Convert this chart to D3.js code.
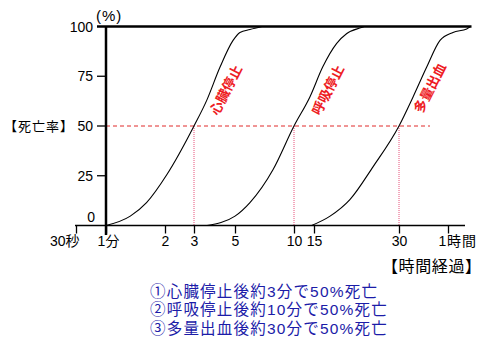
<!DOCTYPE html>
<html>
<head>
<meta charset="utf-8">
<script src="https://cdn.jsdelivr.net/npm/d3@7"></script>
<style>
  html, body { margin: 0; padding: 0; background: #fff; }
  svg { display: block; }
  text { font-family: "Liberation Sans", "Noto Sans CJK JP", sans-serif; }
</style>
</head>
<body>
<svg id="chart" width="489" height="347"></svg>
<script>
// Time axis ticks (minutes) and their labels
const tickMinutes = [0.5, 1, 2, 3, 5, 10, 15, 30, 60];
const tickLabels = ["30秒", "1分", "2", "3", "5", "10", "15", "30", "1時間"];

// Mortality ticks (%)
const yTicks = [0, 25, 50, 75, 100];

// Mortality curves: [minutes, % dead]
const cardiacArrest = [[1, 0], [1.33, 4.7], [1.61, 11.5], [2.05, 25.5], [3, 50], [3.52, 63],
  [4.15, 79.6], [4.88, 93], [5.3, 97], [5.96, 98.5], [6.87, 100]];
const respiratoryArrest = [[3.53, 0], [5, 4.7], [5.96, 11.5], [7.81, 28], [10, 50], [13.8, 64.6],
  [16.1, 79.6], [18.05, 91.5], [19.6, 96.5], [22.1, 99.5], [22.6, 100]];
const massiveBleeding = [[14.3, 0], [17.1, 4.7], [20.1, 13], [24.3, 29.6], [30, 50], [36.6, 64.6],
  [44.4, 79.6], [53.6, 93], [64.4, 97], [78.2, 98.8], [81.9, 99.7]];

const curveNames = ["心臓停止", "呼吸停止", "多量出血"];
const halfTimes = [3, 10, 30];
const notes = ["①心臓停止後約3分で50%死亡", "②呼吸停止後約10分で50%死亡", "③多量出血後約30分で50%死亡"];

const svg = d3.select("#chart");

// The time axis is spaced by hand, so interpolate piecewise in log-minutes
const xStops = [76, 106, 165, 194, 235, 294, 314, 399, 448];
const x = d3.scaleLinear().domain(tickMinutes.map(Math.log)).range(xStops);
const xt = m => x(Math.log(m));
const y = d3.scaleLinear().domain([0, 100]).range([225.5, 26.5]);

// Reference lines at 50%
svg.append("line")
  .attr("x1", xt(1)).attr("x2", 430)
  .attr("y1", y(50)).attr("y2", y(50))
  .attr("stroke", "#e02a2a").attr("stroke-width", 1).attr("stroke-dasharray", "4,3");
svg.selectAll(".half").data(halfTimes).enter().append("line")
  .attr("x1", d => xt(d)).attr("x2", d => xt(d))
  .attr("y1", y(50)).attr("y2", y(0))
  .attr("stroke", "#e8507a").attr("stroke-width", 1).attr("stroke-dasharray", "1,1");

// Curves
const line = d3.line().x(d => xt(d[0])).y(d => y(d[1])).curve(d3.curveMonotoneX);
svg.selectAll(".curve").data([cardiacArrest, respiratoryArrest, massiveBleeding]).enter()
  .append("path")
  .attr("d", line)
  .attr("fill", "none").attr("stroke", "#000").attr("stroke-width", 1.1);

// Frame: top line, vertical axis, time axis
svg.append("line").attr("x1", 97).attr("x2", 471.5)
  .attr("y1", y(100)).attr("y2", y(100))
  .attr("stroke", "#000").attr("stroke-width", 2.5);
svg.append("line").attr("x1", xt(1)).attr("x2", xt(1))
  .attr("y1", y(100)).attr("y2", 235)
  .attr("stroke", "#000").attr("stroke-width", 2.5);
svg.append("line").attr("x1", 75).attr("x2", 465)
  .attr("y1", y(0)).attr("y2", y(0))
  .attr("stroke", "#000").attr("stroke-width", 1.5);

// Time ticks and labels
const xg = svg.append("g").attr("transform", `translate(0,${y(0)})`)
  .call(d3.axisBottom(x)
    .tickValues(tickMinutes.map(Math.log))
    .tickSize(8)
    .tickFormat((d, i) => tickLabels[i]));
xg.select(".domain").remove();
xg.selectAll(".tick line").attr("stroke", "#000").attr("stroke-width", 1.3);
xg.selectAll(".tick text")
  .attr("fill", "#000")
  .attr("font-size", 14)
  .attr("font-family", "Liberation Sans, Noto Sans CJK JP, sans-serif")
  .attr("y", 11)
  .attr("dy", "0.71em")
  .each(function (d, i) {
    const t = d3.select(this);
    if (i === 0) t.attr("text-anchor", "end").attr("x", 3);
    if (i === 1) t.attr("x", 2);
    if (i === tickLabels.length - 1) t.attr("text-anchor", "start").attr("x", -10).attr("letter-spacing", 0.8);
  });

// Mortality ticks and labels
svg.selectAll(".ytick").data(yTicks.filter(v => v > 0 && v < 100)).enter().append("line")
  .attr("x1", 97).attr("x2", xt(1))
  .attr("y1", d => y(d)).attr("y2", d => y(d))
  .attr("stroke", "#000").attr("stroke-width", 1.3);
svg.selectAll(".ylab").data(yTicks).enter().append("text")
  .attr("x", d => d === 0 ? 95 : 93)
  .attr("y", d => d === 0 ? y(0) - 9 : y(d))
  .attr("dy", "0.36em")
  .attr("text-anchor", "end")
  .attr("font-size", 14)
  .text(d => d);

svg.append("text").attr("x", 96).attr("y", 16).attr("dy", "0.36em")
  .attr("font-size", 15).attr("letter-spacing", 1).text("(%)");
svg.append("text").attr("x", 4).attr("y", y(50)).attr("dy", "0.36em")
  .attr("font-size", 13).attr("letter-spacing", 1)
  .attr("font-family", "Noto Sans CJK JP").text("【死亡率】");
svg.append("text").attr("x", 382).attr("y", 266).attr("dy", "0.36em")
  .attr("font-size", 16).attr("letter-spacing", 0.6)
  .attr("font-family", "Noto Sans CJK JP").text("【時間経過】");

// Curve names along the rising slopes
const namePos = [[226, 90], [328, 90], [430, 88]];
svg.selectAll(".cname").data(curveNames).enter().append("text")
  .attr("transform", (d, i) => `translate(${namePos[i][0]},${namePos[i][1]}) rotate(-63)`)
  .attr("text-anchor", "middle").attr("dy", "0.36em")
  .attr("font-size", 13.5).attr("font-weight", "bold")
  .attr("font-family", "Noto Sans CJK JP")
  .attr("fill", "#ee1c24")
  .text(d => d);

// Notes
svg.selectAll(".note").data(notes).enter().append("text")
  .attr("x", 150)
  .attr("y", (d, i) => 291 + i * 18.5)
  .attr("dy", "0.36em")
  .attr("font-size", 15.5)
  .attr("letter-spacing", 1.2)
  .attr("font-family", "Noto Sans CJK JP")
  .attr("fill", "#1c1ca8")
  .text(d => d);
</script>
</body>
</html>
